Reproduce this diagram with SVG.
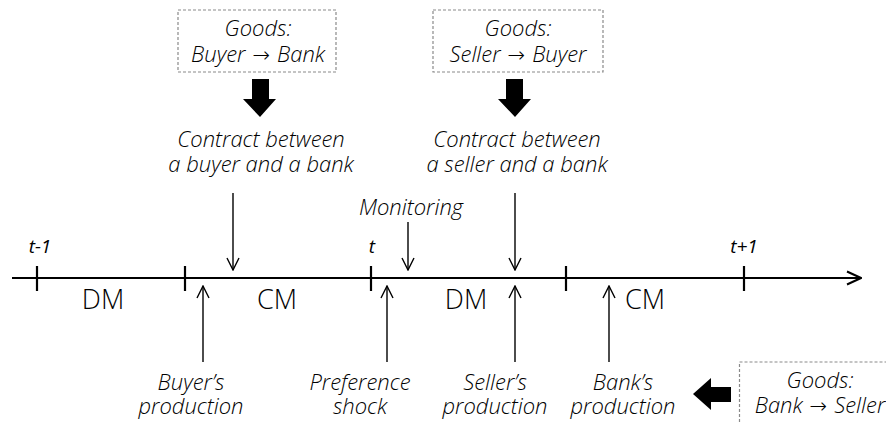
<svg xmlns="http://www.w3.org/2000/svg" width="886" height="423" viewBox="0 0 886 423">
  <defs>
    <style>
      .lbl { font-family: "Open Sans", "Noto Sans", "Liberation Sans", sans-serif; font-style: italic; font-weight: 300; font-size: 22px; fill: #000; text-anchor: middle; }
      .arr { font-family: "DejaVu Sans", sans-serif; font-style: normal; font-weight: 200; font-size: 21px; }
      .tick-lbl { font-family: "Open Sans", "Noto Sans", "Liberation Sans", sans-serif; font-style: italic; font-weight: 400; font-size: 19px; fill: #000; text-anchor: middle; }
      .mkt { font-family: "Open Sans", "Noto Sans", "Liberation Sans", sans-serif; font-weight: 300; font-size: 27px; fill: #000; text-anchor: middle; }
      .box { fill: #fff; stroke: #8a8a8a; stroke-width: 1.2; stroke-dasharray: 3 2; }
      .thin { stroke: #000; stroke-width: 1.4; fill: none; }
      .axis { stroke: #000; stroke-width: 2.2; fill: none; }
      .tick { stroke: #000; stroke-width: 2.2; }
      .fat { fill: #000; }
    </style>
    <marker id="open" viewBox="0 0 14 14" refX="13" refY="7" markerWidth="14" markerHeight="14" markerUnits="userSpaceOnUse" orient="auto">
      <path d="M1 1 L13 7 L1 13" fill="none" stroke="#000" stroke-width="1.4"/>
    </marker>
    <marker id="axisHead" viewBox="0 0 16 16" refX="15" refY="8" markerWidth="16" markerHeight="16" markerUnits="userSpaceOnUse" orient="auto">
      <path d="M1 1.5 L15 8 L1 14.5" fill="none" stroke="#000" stroke-width="2"/>
    </marker>
  </defs>

  <rect width="886" height="423" fill="#fff"/>

  <!-- timeline -->
  <g id="timeline">
    <line class="axis" x1="12" y1="278" x2="861" y2="278" marker-end="url(#axisHead)"/>
    <line class="tick" x1="37" y1="266" x2="37" y2="291"/>
    <line class="tick" x1="185" y1="266" x2="185" y2="291"/>
    <line class="tick" x1="371" y1="266" x2="371" y2="291"/>
    <line class="tick" x1="566" y1="266" x2="566" y2="291"/>
    <line class="tick" x1="744" y1="266" x2="744" y2="291"/>
    <text class="tick-lbl" x="40" y="253">t-1</text>
    <text class="tick-lbl" x="372" y="253">t</text>
    <text class="tick-lbl" x="744" y="253">t+1</text>
    <text class="mkt" x="103" y="309">DM</text>
    <text class="mkt" x="277" y="309">CM</text>
    <text class="mkt" x="466" y="309">DM</text>
    <text class="mkt" x="645" y="309">CM</text>
  </g>

  <!-- goods transfer boxes -->
  <g id="goods-buyer-bank">
    <rect class="box" x="178" y="10" width="158" height="62"/>
    <text class="lbl"><tspan x="258" y="36">Goods:</tspan><tspan x="258" y="62">Buyer<tspan class="arr" dx="7">→</tspan><tspan dx="7">Bank</tspan></tspan></text>
  </g>
  <g id="goods-seller-buyer">
    <rect class="box" x="433" y="10" width="170" height="62"/>
    <text class="lbl"><tspan x="518" y="36">Goods:</tspan><tspan x="518" y="62">Seller<tspan class="arr" dx="7">→</tspan><tspan dx="7">Buyer</tspan></tspan></text>
  </g>
  <g id="goods-bank-seller">
    <rect class="box" x="739.5" y="362" width="160" height="70"/>
    <text class="lbl"><tspan x="820" y="388">Goods:</tspan><tspan x="820" y="413">Bank<tspan class="arr" dx="7">→</tspan><tspan dx="7">Seller</tspan></tspan></text>
  </g>

  <!-- contracts -->
  <g id="contract-buyer">
    <text class="lbl"><tspan x="261" y="147">Contract between</tspan><tspan x="261" y="172">a buyer and a bank</tspan></text>
  </g>
  <g id="contract-seller">
    <text class="lbl"><tspan x="517" y="147">Contract between</tspan><tspan x="517" y="172">a seller and a bank</tspan></text>
  </g>
  <g id="monitoring">
    <text class="lbl" x="411" y="215">Monitoring</text>
  </g>

  <!-- production and shock events -->
  <g id="buyer-production">
    <text class="lbl"><tspan x="191" y="390">Buyer’s</tspan><tspan x="191" y="414">production</tspan></text>
  </g>
  <g id="preference-shock">
    <text class="lbl"><tspan x="360" y="390">Preference</tspan><tspan x="360" y="414">shock</tspan></text>
  </g>
  <g id="seller-production">
    <text class="lbl"><tspan x="495" y="390">Seller’s</tspan><tspan x="495" y="414">production</tspan></text>
  </g>
  <g id="bank-production">
    <text class="lbl"><tspan x="623" y="390">Bank’s</tspan><tspan x="623" y="414">production</tspan></text>
  </g>

  <!-- connectors -->
  <g id="connectors">
    <!-- block arrows -->
    <path class="fat" d="M252 79 H269 V99 H276 L260 117 L243 99 H252 Z"/>
    <path class="fat" d="M506 79 H523 V99 H531 L515 117 L498 99 H506 Z"/>
    <path class="fat" d="M731 387 V402 H711 V410 L693 394 L711 378 V387 Z"/>
    <!-- downward event arrows -->
    <line class="thin" x1="233" y1="193" x2="233" y2="270" marker-end="url(#open)"/>
    <line class="thin" x1="408" y1="222" x2="408" y2="270" marker-end="url(#open)"/>
    <line class="thin" x1="515" y1="193" x2="515" y2="270" marker-end="url(#open)"/>
    <!-- upward event arrows -->
    <line class="thin" x1="203" y1="362" x2="203" y2="286" marker-end="url(#open)"/>
    <line class="thin" x1="387" y1="362" x2="387" y2="286" marker-end="url(#open)"/>
    <line class="thin" x1="515" y1="362" x2="515" y2="286" marker-end="url(#open)"/>
    <line class="thin" x1="609" y1="362" x2="609" y2="286" marker-end="url(#open)"/>
  </g>
</svg>
